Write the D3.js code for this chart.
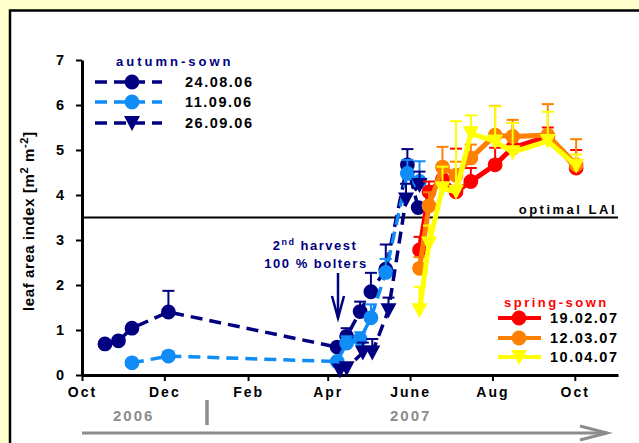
<!DOCTYPE html>
<html><head><meta charset="utf-8">
<script src="https://cdn.jsdelivr.net/npm/d3@7"></script>
<style>
body{margin:0;background:#ffffcc;}
svg{display:block;font-family:"Liberation Sans",Arial,sans-serif;font-weight:bold;}
</style></head>
<body><svg id="c" width="639" height="443"></svg>
<script>
// ---- data ----
const tickDates = ["2006-10-01","2006-12-01","2007-02-01","2007-04-01","2007-06-01","2007-08-01","2007-10-01"];
const tickLabels = ["Oct","Dec","Feb","Apr","June","Aug","Oct"];
const yTicks = [0,1,2,3,4,5,6,7];

const dates240806 = ["2006-10-18","2006-10-28","2006-11-07","2006-12-04","2007-04-08","2007-04-15","2007-04-25","2007-05-03","2007-05-14","2007-05-30","2007-06-07"];
const lai240806 = [0.69,0.76,1.04,1.40,0.62,0.86,1.41,1.85,2.35,4.67,3.72];
const err240806 = [0,0,0,0.47,0,0.18,0.22,0.42,0.55,0.35,0];

const dates110906 = ["2006-11-07","2006-12-04","2007-04-08","2007-04-15","2007-04-25","2007-05-03","2007-05-14","2007-05-30","2007-06-08"];
const lai110906 = [0.27,0.42,0.30,0.71,0.80,1.27,2.28,4.48,4.30];
const err110906 = [0,0.1,0,0.15,0.15,0.3,0.3,0.3,0.45];

const dates260906 = ["2007-04-10","2007-04-15","2007-04-27","2007-05-04","2007-05-16","2007-05-29","2007-06-08"];
const lai260906 = [0.10,0.15,0.50,0.50,1.44,3.90,4.22];
const err260906 = [0,0,0.22,0.3,0.28,0.35,0.3];

const datesSpring = ["2007-06-08","2007-06-15","2007-06-25","2007-07-05","2007-07-16","2007-08-03","2007-08-16","2007-09-11","2007-10-02"];
const lai190207 = [2.78,4.07,4.35,4.07,4.30,4.67,5.05,5.30,4.60];
const err190207 = [0.29,0.23,0.2,0.96,0.3,0.38,0.55,0.2,0.4];
const lai120307 = [2.37,3.76,4.62,4.44,4.82,5.33,5.30,5.33,4.67];
const err120307 = [0.25,0.3,0.45,0.3,0.3,0.65,0.37,0.69,0.57];
const lai100407 = [1.44,2.92,4.15,4.07,5.37,5.19,4.95,5.20,4.65];
const err100407 = [0.52,0.4,0.48,1.57,0.4,0.78,0.65,0.65,0.25];

const optimalLAI = 3.5;
const autumnLabels = ["24.08.06","11.09.06","26.09.06"];
const springLabels = ["19.02.07","12.03.07","10.04.07"];

// ---- setup ----
const P = s => d3.utcParse("%Y-%m-%d")(s);
const svg = d3.select("#c");
const navy = "#000080", lblue = "#0f8cf5", red = "#ff0000", orange = "#ff8000", yellow = "#ffff00";

svg.append("rect").attr("x",0).attr("y",0).attr("width",639).attr("height",443).attr("fill","#ffffcc");
svg.append("rect").attr("x",10).attr("y",10.5).attr("width",700).attr("height",500)
  .attr("fill","#fff").attr("stroke","#000").attr("stroke-width",2.5);

const x = d3.scaleUtc().domain([P("2006-10-01"), P("2007-11-02")]).range([82, 618]);
const y = d3.scaleLinear().domain([0,7]).range([375, 60]);

// axes
const xAxis = d3.axisBottom(x).tickValues(tickDates.map(P)).tickFormat((d,i)=>tickLabels[i]).tickSize(6).tickSizeOuter(0).tickPadding(6);
const gx = svg.append("g").attr("transform","translate(0,375)").call(xAxis);
gx.select(".domain").attr("stroke-width",3);
gx.selectAll(".tick line").attr("stroke-width",2);
gx.selectAll("text").attr("font-size",14).attr("font-weight","bold").attr("letter-spacing",2).attr("fill","#000");

const yAxis = d3.axisLeft(y).tickValues(yTicks).tickFormat(d3.format("d")).tickSize(6).tickSizeOuter(0).tickPadding(12);
const gy = svg.append("g").attr("transform","translate(82,0)").call(yAxis);
gy.select(".domain").attr("stroke-width",3);
gy.selectAll(".tick line").attr("stroke-width",2);
gy.selectAll("text").attr("font-size",14.5).attr("font-weight","bold").attr("fill","#000");

// y label
const yl = svg.append("text").attr("transform","translate(34,311) rotate(-90)").attr("font-size",15).attr("letter-spacing",0.6).attr("fill","#000");
yl.append("tspan").text("leaf area index [m");
yl.append("tspan").attr("dy",-6).attr("font-size",11).text("2");
yl.append("tspan").attr("dy",6).text(" m");
yl.append("tspan").attr("dy",-6).attr("font-size",11).text("-2");
yl.append("tspan").attr("dy",6).text("]");

// optimal LAI line
svg.append("line").attr("x1",82).attr("x2",618).attr("y1",y(optimalLAI)).attr("y2",y(optimalLAI)).attr("stroke","#000").attr("stroke-width",2);
svg.append("text").attr("x",617).attr("y",y(optimalLAI)-4).attr("text-anchor","end").attr("font-size",13).attr("letter-spacing",2.5).text("optimal LAI");

// symbols
const circlePath = d3.symbol().type(d3.symbolCircle).size(Math.PI*7.4*7.4)();
const triPath = "M-8,-7L8,-7L0,8Z";

function series(dates, vals, errs, color, marker, dashed){
  const data = dates.map((d,i)=>({d:P(d), v:vals[i], e:errs[i]}));
  const line = d3.line().x(p=>x(p.d)).y(p=>y(p.v));
  svg.append("path").datum(data).attr("d",line).attr("fill","none").attr("stroke",color)
    .attr("stroke-width",dashed?3.5:5).attr("stroke-dasharray",dashed?"12,7":null);
  const eb = svg.append("g").attr("stroke",color).attr("stroke-width",2);
  data.filter(p=>p.e>0).forEach(p=>{
    eb.append("line").attr("x1",x(p.d)).attr("x2",x(p.d)).attr("y1",y(p.v)).attr("y2",y(p.v+p.e));
    eb.append("line").attr("x1",x(p.d)-6).attr("x2",x(p.d)+6).attr("y1",y(p.v+p.e)).attr("y2",y(p.v+p.e));
  });
  svg.append("g").selectAll("path").data(data).join("path")
    .attr("transform",p=>`translate(${x(p.d)},${y(p.v)})`)
    .attr("d",marker).attr("fill",color);
}

series(dates240806, lai240806, err240806, navy, circlePath, true);
series(dates110906, lai110906, err110906, lblue, circlePath, true);
series(dates260906, lai260906, err260906, navy, triPath, true);
series(datesSpring, lai190207, err190207, red, circlePath, false);
series(datesSpring, lai120307, err120307, orange, circlePath, false);
series(datesSpring, lai100407, err100407, yellow, triPath, false);

// autumn legend
svg.append("text").attr("x",116).attr("y",66).attr("font-size",13).attr("letter-spacing",3).attr("fill",navy).text("autumn-sown");
const aCols = [navy,lblue,navy], aMk = [circlePath,circlePath,triPath], aY=[82,102,123];
autumnLabels.forEach((t,i)=>{
  svg.append("line").attr("x1",95).attr("x2",162).attr("y1",aY[i]).attr("y2",aY[i]).attr("stroke",aCols[i]).attr("stroke-width",3.5).attr("stroke-dasharray","12,7");
  svg.append("path").attr("transform",`translate(132,${aY[i]})`).attr("d",aMk[i]).attr("fill",aCols[i]);
  svg.append("text").attr("x",185).attr("y",aY[i]+5).attr("font-size",14.5).attr("letter-spacing",1.5).attr("fill","#000").text(t);
});

// spring legend
svg.append("text").attr("x",504).attr("y",307).attr("font-size",13).attr("letter-spacing",2.5).attr("fill",red).text("spring-sown");
const sCols = [red,orange,yellow], sMk=[circlePath,circlePath,triPath], sY=[318,338,357];
springLabels.forEach((t,i)=>{
  svg.append("line").attr("x1",498).attr("x2",541).attr("y1",sY[i]).attr("y2",sY[i]).attr("stroke",sCols[i]).attr("stroke-width",4);
  svg.append("path").attr("transform",`translate(519,${sY[i]})`).attr("d",sMk[i]).attr("fill",sCols[i]);
  svg.append("text").attr("x",550).attr("y",sY[i]+5).attr("font-size",14.5).attr("letter-spacing",1.5).attr("fill","#000").text(t);
});

// harvest annotation
const h1 = svg.append("text").attr("x",315).attr("y",250).attr("text-anchor","middle").attr("font-size",13).attr("letter-spacing",1.5).attr("fill",navy);
h1.append("tspan").text("2");
h1.append("tspan").attr("dy",-5).attr("font-size",9).text("nd");
h1.append("tspan").attr("dy",5).text(" harvest");
svg.append("text").attr("x",316).attr("y",268).attr("text-anchor","middle").attr("font-size",13).attr("letter-spacing",1.5).attr("fill",navy).text("100 % bolters");
const ar = svg.append("g").attr("stroke",navy).attr("stroke-width",2.5).attr("fill","none");
ar.append("line").attr("x1",338).attr("x2",338).attr("y1",273).attr("y2",318);
ar.append("path").attr("d","M332,296L338,318L344,296");

// year annotation
const gray = "#8c8c8c";
svg.append("text").attr("x",113).attr("y",421).attr("font-size",15).attr("letter-spacing",2).attr("fill",gray).text("2006");
svg.append("text").attr("x",390).attr("y",421).attr("font-size",15).attr("letter-spacing",2).attr("fill",gray).text("2007");
svg.append("line").attr("x1",207).attr("x2",207).attr("y1",400).attr("y2",425).attr("stroke",gray).attr("stroke-width",3.5);
svg.append("line").attr("x1",82).attr("x2",607).attr("y1",433).attr("y2",433).attr("stroke",gray).attr("stroke-width",3);
svg.append("path").attr("d","M580,426L607,433L580,440").attr("fill","none").attr("stroke",gray).attr("stroke-width",3);
</script></body></html>
